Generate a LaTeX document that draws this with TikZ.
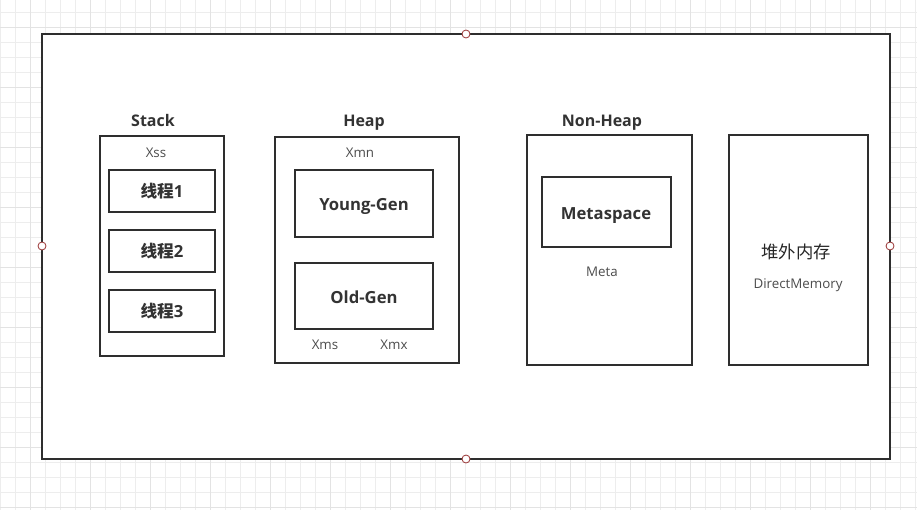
\documentclass[tikz,border=0pt]{standalone}
\usepackage{fontspec}
\setmainfont{Open Sans}
\newfontfamily\cjk{Noto Sans CJK SC}
\begin{document}
\begin{tikzpicture}[x=0.75pt,y=-0.75pt,
  box/.style={draw=black!82,line width=1.5pt},
  title/.style={anchor=base,font=\bfseries\fontsize{12}{14}\selectfont,text=black!80},
  inner/.style={anchor=base,font=\bfseries\fontsize{12.5}{14}\selectfont,text=black!80},
  small/.style={anchor=base,font=\fontsize{10}{12}\selectfont,text=black!70},
  handle/.style={circle,draw=red!50!black!80,fill=white,line width=0.6pt,minimum size=6pt,inner sep=0pt}]
\useasboundingbox (0,0) rectangle (917,510);
\fill[white] (0,0) rectangle (917,510);
% grid
\foreach \x in {0,15,...,915} \draw[black!7,line width=0.6pt] (\x,0) -- (\x,510);
\foreach \y in {12,27,...,510} \draw[black!7,line width=0.6pt] (0,\y) -- (917,\y);
\foreach \x in {30,90,...,915} \draw[black!11,line width=0.6pt] (\x,0) -- (\x,510);
\foreach \y in {27,87,...,510} \draw[black!11,line width=0.6pt] (0,\y) -- (917,\y);
% outer
\fill[white] (42,34) rectangle (890,459);
\draw[box] (42,34) rectangle (890,459);
\node[handle] (h1) at (466,34) {};
\node[handle] (h2) at (42,246) {};
\node[handle] (h3) at (890,246) {};
\node[handle] (h4) at (466,459) {};
% stack
\draw[box] (100,136) rectangle (224,356);
\node[title] (stack) at (153,126) {Stack};
\node[small] (xss) at (156,157) {Xss};
\draw[box] (109,170) rectangle (215,212);
\node[inner] (t1) at (162,197) {{\cjk 线程}1};
\draw[box] (109,230) rectangle (215,272);
\node[inner] (t2) at (162,257) {{\cjk 线程}2};
\draw[box] (109,290) rectangle (215,332);
\node[inner] (t3) at (162,317) {{\cjk 线程}3};
% heap
\draw[box] (275,137) rectangle (459,363);
\node[title] (heap) at (364,126) {Heap};
\node[small] (xmn) at (360,157) {Xmn};
\draw[box] (295,170) rectangle (433,237);
\node[inner] (young) at (364,210) {Young-Gen};
\draw[box] (295,263) rectangle (433,329);
\node[inner] (old) at (364,303) {Old-Gen};
\node[small] (xms) at (325,349) {Xms};
\node[small] (xmx) at (394,349) {Xmx};
% non-heap
\draw[box] (527,135) rectangle (692,365);
\node[title] (nonheap) at (602,126) {Non-Heap};
\draw[box] (542,177) rectangle (671,247);
\node[inner] (meta) at (606,219) {Metaspace};
\node[small] (metal) at (602,276) {Meta};
% direct memory
\draw[box] (729,135) rectangle (868,365);
\node[anchor=base,font=\cjk\fontsize{13}{15}\selectfont,text=black!85] (dm) at (796,258) {堆外内存};
\node[small] (dml) at (798,288) {DirectMemory};
\end{tikzpicture}
\end{document}
